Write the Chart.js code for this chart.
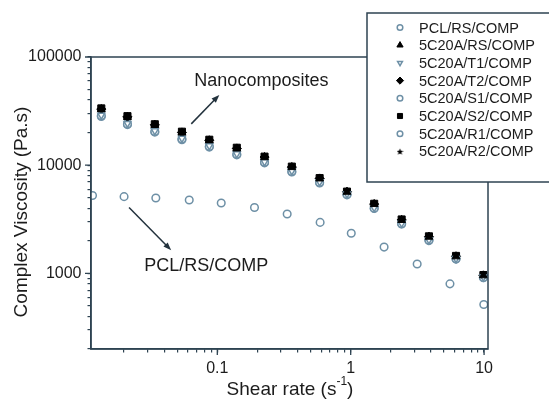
<!DOCTYPE html>
<html>
<head>
<meta charset="utf-8">
<script src="https://cdn.jsdelivr.net/npm/chart.js@4/dist/chart.umd.min.js"></script>
<style>
  html, body { margin: 0; padding: 0; background: #fff; }
</style>
</head>
<body>
<canvas id="GraficoViscosidade" width="549" height="401"></canvas>
<script>
// shear rates (s-1)
const pclRate  = [0.0116, 0.0200, 0.0346, 0.0616, 0.107, 0.19, 0.334, 0.59, 1.01, 1.78, 3.15, 5.55, 9.95];
const nanoRate = [0.0135, 0.0212, 0.034, 0.0543, 0.0871, 0.140, 0.226, 0.362, 0.585, 0.938, 1.50, 2.41, 3.86, 6.16, 9.88];

// complex viscosity (Pa.s)
const pclRS  = [5250, 5120, 4970, 4760, 4470, 4070, 3540, 2960, 2350, 1750, 1220, 800, 515];
const c20RS  = [32800, 27800, 23500, 20000, 16900, 14200, 11800, 9550, 7500, 5650, 4350, 3100, 2170, 1430, 955];
const c20T1  = [29000, 24300, 20800, 17700, 15100, 12750, 10750, 8850, 7000, 5420, 4050, 2900, 2040, 1370, 925];
const c20T2  = [33000, 28000, 23600, 20100, 17000, 14300, 11900, 9600, 7550, 5680, 4370, 3120, 2180, 1440, 960];
const c20S1  = [28600, 24000, 20500, 17450, 14900, 12600, 10630, 8740, 6920, 5370, 4010, 2880, 2025, 1362, 918];
const c20S2  = [33500, 28400, 23900, 20400, 17200, 14500, 12000, 9700, 7600, 5700, 4400, 3150, 2200, 1450, 965];
const c20R1  = [28200, 23700, 20200, 17200, 14700, 12450, 10500, 8650, 6850, 5320, 3980, 2860, 2010, 1355, 912];
const c20R2  = [32500, 27600, 23300, 19800, 16800, 14100, 11700, 9500, 7450, 5600, 4320, 3080, 2160, 1420, 950];

const nomes = ['PCL/RS/COMP', '5C20A/RS/COMP', '5C20A/T1/COMP', '5C20A/T2/COMP',
               '5C20A/S1/COMP', '5C20A/S2/COMP', '5C20A/R1/COMP', '5C20A/R2/COMP'];

// ticks
const xTicks = [0.02, 0.03, 0.04, 0.05, 0.06, 0.07, 0.08, 0.09, 0.1,
                0.2, 0.3, 0.4, 0.5, 0.6, 0.7, 0.8, 0.9, 1,
                2, 3, 4, 5, 6, 7, 8, 9, 10];
const xLabels = { 0.1: '0.1', 1: '1', 10: '10' };
const yTicks = [200, 300, 400, 500, 600, 700, 800, 900, 1000,
                2000, 3000, 4000, 5000, 6000, 7000, 8000, 9000, 10000,
                20000, 30000, 40000, 50000, 60000, 70000, 80000, 90000, 100000];
const yLabels = { 1000: '1000', 10000: '10000', 100000: '100000' };

// text annotations, in data coordinates
const nanoTexto = { x: 0.214, y: 60000, text: 'Nanocomposites' };
const nanoSeta  = { de: [0.0638, 24100], para: [0.1035, 44600] };
const pclTexto  = { x: 0.0827, y: 1167, text: 'PCL/RS/COMP' };
const pclSeta   = { de: [0.0218, 4070], para: [0.0451, 1637] };

const corEixo = '#2e4352';
const corAberto = '#6e90a6';
const corTexto = '#1c1c1c';
const fonte = '"Liberation Sans", Arial, sans-serif';

function estrela(tam) {
  const c = document.createElement('canvas');
  c.width = tam; c.height = tam;
  const g = c.getContext('2d');
  const r = tam / 2, ri = r * 0.45;
  g.fillStyle = '#000';
  g.beginPath();
  for (let i = 0; i < 10; i++) {
    const rr = i % 2 === 0 ? r : ri;
    const a = -Math.PI / 2 + i * Math.PI / 5;
    g.lineTo(r + rr * Math.cos(a), r + 0.5 + rr * Math.sin(a));
  }
  g.closePath();
  g.fill();
  return c;
}

function pontos(xs, ys) {
  return xs.map((x, i) => ({ x: x, y: ys[i] }));
}

function aberto(label, xs, ys, estilo, extra) {
  return Object.assign({
    label: label, data: pontos(xs, ys), pointStyle: estilo, pointRadius: 3.8,
    pointBorderWidth: 1.5, borderColor: corAberto, backgroundColor: 'rgba(0,0,0,0)',
    pointBackgroundColor: '#fff', pointBorderColor: corAberto, showLine: false
  }, extra || {});
}

function cheio(label, xs, ys, estilo, raio, extra) {
  return Object.assign({
    label: label, data: pontos(xs, ys), pointStyle: estilo, pointRadius: raio,
    pointBorderWidth: 1, borderColor: '#000', backgroundColor: '#000',
    pointBackgroundColor: '#000', pointBorderColor: '#000', showLine: false
  }, extra || {});
}

const estrelaGrande = estrela(10);
const estrelaPequena = estrela(7);

const datasets = [
  aberto(nomes[0], pclRate, pclRS, 'circle'),
  cheio(nomes[1], nanoRate, c20RS, 'triangle', 4.5),
  aberto(nomes[2], nanoRate, c20T1, 'triangle', { pointRotation: 180, pointRadius: 4 }),
  cheio(nomes[3], nanoRate, c20T2, 'rectRot', 4.5),
  aberto(nomes[4], nanoRate, c20S1, 'circle'),
  cheio(nomes[5], nanoRate, c20S2, 'rect', 5),
  aberto(nomes[6], nanoRate, c20R1, 'circle'),
  cheio(nomes[7], nanoRate, c20R2, estrelaGrande, 5)
];
const legendaEstilo = ['circle', 'triangle', 'triangle', 'rectRot', 'circle', 'rect', 'circle', estrelaPequena];

const molduraPlugin = {
  id: 'moldura',
  afterDraw(chart) {
    const ctx = chart.ctx;
    const a = chart.chartArea;
    const sx = chart.scales.x, sy = chart.scales.y;
    ctx.save();

    // plot frame
    ctx.strokeStyle = corEixo;
    ctx.lineWidth = 1.5;
    ctx.strokeRect(a.left, a.top, a.right - a.left, a.bottom - a.top);

    // longer major ticks
    ctx.lineWidth = 1.3;
    ctx.beginPath();
    Object.keys(xLabels).forEach(v => {
      const px = sx.getPixelForValue(Number(v));
      ctx.moveTo(px, a.bottom); ctx.lineTo(px, a.bottom + 6);
    });
    Object.keys(yLabels).forEach(v => {
      const py = sy.getPixelForValue(Number(v));
      ctx.moveTo(a.left, py); ctx.lineTo(a.left - 6, py);
    });
    ctx.stroke();

    // axis titles
    ctx.fillStyle = corTexto;
    ctx.font = '19px ' + fonte;
    ctx.textBaseline = 'middle';
    ctx.textAlign = 'center';
    ctx.save();
    ctx.translate(22, 212);
    ctx.rotate(-Math.PI / 2);
    ctx.fillText('Complex Viscosity (Pa.s)', 0, 0);
    ctx.restore();

    const t1 = 'Shear rate (s', sup = '-1', t2 = ')';
    ctx.font = '19px ' + fonte;
    const w1 = ctx.measureText(t1).width, w3 = ctx.measureText(t2).width;
    ctx.font = '12px ' + fonte;
    const w2 = ctx.measureText(sup).width;
    let x0 = 290 - (w1 + w2 + w3) / 2;
    ctx.textAlign = 'left';
    ctx.font = '19px ' + fonte;
    ctx.fillText(t1, x0, 390);
    ctx.font = '12px ' + fonte;
    ctx.fillText(sup, x0 + w1, 382);
    ctx.font = '19px ' + fonte;
    ctx.fillText(t2, x0 + w1 + w2, 390);

    // annotations
    ctx.font = '18px ' + fonte;
    ctx.textAlign = 'center';
    [nanoTexto, pclTexto].forEach(t => {
      ctx.fillText(t.text, sx.getPixelForValue(t.x), sy.getPixelForValue(t.y));
    });
    [nanoSeta, pclSeta].forEach(s => {
      const x1 = sx.getPixelForValue(s.de[0]), y1 = sy.getPixelForValue(s.de[1]);
      const x2 = sx.getPixelForValue(s.para[0]), y2 = sy.getPixelForValue(s.para[1]);
      const ang = Math.atan2(y2 - y1, x2 - x1);
      ctx.strokeStyle = '#23323d';
      ctx.fillStyle = '#23323d';
      ctx.lineWidth = 1.5;
      ctx.beginPath();
      ctx.moveTo(x1, y1);
      ctx.lineTo(x2 - 6 * Math.cos(ang), y2 - 6 * Math.sin(ang));
      ctx.stroke();
      ctx.beginPath();
      ctx.moveTo(x2, y2);
      ctx.lineTo(x2 - 8 * Math.cos(ang) + 3 * Math.sin(ang), y2 - 8 * Math.sin(ang) - 3 * Math.cos(ang));
      ctx.lineTo(x2 - 8 * Math.cos(ang) - 3 * Math.sin(ang), y2 - 8 * Math.sin(ang) + 3 * Math.cos(ang));
      ctx.closePath();
      ctx.fill();
    });

    // legend box (runs past the right edge, as in the original)
    const bx = 367, by = 13, bw = 200, bh = 169;
    ctx.fillStyle = '#fff';
    ctx.fillRect(bx, by, bw, bh);
    ctx.strokeStyle = corEixo;
    ctx.lineWidth = 1.5;
    ctx.strokeRect(bx, by, bw, bh);
    ctx.font = '14.5px ' + fonte;
    ctx.textAlign = 'left';
    ctx.textBaseline = 'middle';
    chart.data.datasets.forEach((ds, i) => {
      const ly = 27.5 + i * 17.7;
      ctx.fillStyle = ds.pointBackgroundColor;
      ctx.strokeStyle = ds.pointBorderColor;
      ctx.lineWidth = ds.pointBorderWidth;
      const est = legendaEstilo[i];
      const raio = ds.pointBackgroundColor === '#000' ? 3.6 : 2.8;
      if (Chart.helpers && Chart.helpers.drawPoint) {
        Chart.helpers.drawPoint(ctx, {
          pointStyle: est, radius: raio, rotation: ds.pointRotation || 0,
          borderWidth: ds.pointBorderWidth
        }, 400, ly);
      }
      ctx.fillStyle = corTexto;
      ctx.fillText(ds.label, 419, ly + 1);
    });
    ctx.restore();
  }
};

const grafico = document.getElementById('GraficoViscosidade');

const graficoViscosidade = new Chart(grafico, {
  type: 'scatter',
  data: { datasets: datasets },
  options: {
    responsive: false,
    animation: false,
    events: [],
    layout: { padding: { top: 57, right: 61, left: 0, bottom: 0 } },
    plugins: { legend: { display: false }, tooltip: { enabled: false } },
    scales: {
      x: {
        type: 'logarithmic',
        position: 'bottom',
        min: 0.0113,
        max: 10.7,
        afterBuildTicks: s => { s.ticks = xTicks.map(v => ({ value: v })); },
        afterFit: s => { s.height = 52; },
        grid: { drawOnChartArea: false, drawTicks: true, tickLength: 3.5, color: corEixo, lineWidth: 1.2 },
        border: { display: true, color: corEixo, width: 1.5 },
        ticks: {
          autoSkip: false, maxRotation: 0, padding: 6, color: corTexto,
          font: { family: fonte, size: 16 },
          callback: v => xLabels[v] || ''
        }
      },
      y: {
        type: 'logarithmic',
        position: 'left',
        min: 200,
        max: 100000,
        afterBuildTicks: s => { s.ticks = yTicks.map(v => ({ value: v })); },
        afterFit: s => { s.width = 91; },
        grid: { drawOnChartArea: false, drawTicks: true, tickLength: 3.5, color: corEixo, lineWidth: 1.2 },
        border: { display: true, color: corEixo, width: 1.5 },
        ticks: {
          autoSkip: false, padding: 6, color: corTexto,
          font: { family: fonte, size: 16 },
          callback: v => yLabels[v] || ''
        }
      }
    }
  },
  plugins: [molduraPlugin]
});
</script>
</body>
</html>
